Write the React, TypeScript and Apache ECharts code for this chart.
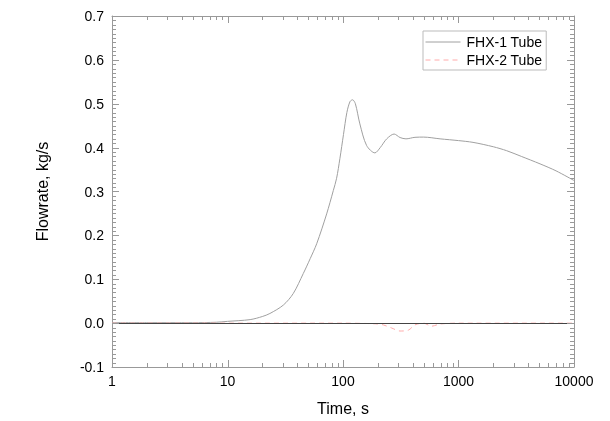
import React, { useEffect, useRef } from "react";
import * as echarts from "echarts";

const fhx1Time = [1, 2, 5, 8, 10, 15.7, 20, 23.3, 30.4, 37.1, 45.3, 52, 59.2, 72.2, 82.4, 88, 94, 101, 108, 115, 121, 128, 140, 160, 189, 210, 239, 277, 312, 351, 420, 500, 692, 1000, 1336, 2000, 2612, 3500, 5080, 7000, 10000];
const fhx1Flow = [0.001, 0.001, 0.001, 0.002, 0.004, 0.008, 0.015, 0.022, 0.041, 0.0675, 0.113, 0.147, 0.181, 0.249, 0.302, 0.33, 0.375, 0.43, 0.48, 0.505, 0.509, 0.5, 0.454, 0.405, 0.388, 0.4, 0.42, 0.431, 0.423, 0.42, 0.4235, 0.424, 0.42, 0.416, 0.412, 0.402, 0.393, 0.38, 0.363, 0.347, 0.325];

const fhx2Time = [1, 10, 100, 170, 200, 223, 263, 312, 368, 420, 496, 586, 692, 1000, 10000];
const fhx2Flow = [0, 0, 0, -0.001, -0.002, -0.004, -0.011, -0.018, -0.016, -0.004, 0.0, -0.007, -0.002, 0, 0];

const seriesNames = ["FHX-1 Tube", "FHX-2 Tube"];

const X_MIN = 1;
const X_MAX = 10000;
const Y_MIN = -0.1;
const Y_MAX = 0.7;

// tick positions of the log x axis: decades (major) and 2..9 (minor)
const xTicks: [number, number][] = [];
for (let d = 0; d <= 4; d++) {
  xTicks.push([Math.pow(10, d), 7]);
  if (d < 4) for (let k = 2; k <= 9; k++) xTicks.push([k * Math.pow(10, d), 4]);
}
// tick positions of the y axis: every 0.1 (major) and 0.01 (minor)
const yTicks: [number, number][] = [];
for (let i = -10; i <= 70; i++) yTicks.push([i / 100, i % 10 === 0 ? 7 : 4]);

const FONT = 'Arial, "Liberation Sans", sans-serif';
const AXIS_COLOR = "#999";

export default function App() {
  const ref = useRef<HTMLDivElement>(null);
  useEffect(() => {
    if (!ref.current) return;
    const chart = echarts.init(ref.current, undefined, { renderer: "svg" });
    const xCommon = {
      type: "log" as const,
      logBase: 10,
      min: X_MIN,
      max: X_MAX,
      splitLine: { show: false },
      axisLine: { show: true, onZero: false, lineStyle: { color: AXIS_COLOR, width: 1 } },
      axisTick: { show: false },
    };
    const yCommon = {
      type: "value" as const,
      min: Y_MIN,
      max: Y_MAX,
      interval: 0.1,
      splitLine: { show: false },
      axisLine: { show: true, onZero: false, lineStyle: { color: AXIS_COLOR, width: 1 } },
      axisTick: { show: false },
    };
    chart.setOption({
      animation: false,
      textStyle: { fontFamily: FONT },
      grid: { left: 112, right: 36, top: 16, bottom: 54 },
      legend: {
        data: seriesNames,
        orient: "vertical",
        left: 423,
        top: 31,
        padding: [4, 4, 3, 2],
        itemGap: 4,
        itemWidth: 35,
        itemHeight: 14,
        borderColor: "#bbb",
        borderWidth: 1,
        borderRadius: 0,
        itemStyle: { opacity: 0 },
        lineStyle: { width: 1 },
        textStyle: { fontFamily: FONT, fontSize: 14, color: "#000", padding: [0, 0, 0, 1] },
      },
      xAxis: [
        {
          ...xCommon,
          position: "bottom",
          name: "Time, s",
          nameLocation: "middle",
          nameGap: 33,
          nameTextStyle: { fontFamily: FONT, fontSize: 16, color: "#000" },
          axisLabel: {
            margin: 7,
            fontFamily: FONT,
            fontSize: 14,
            color: "#000",
            formatter: (v: number) => String(Math.round(v)),
          },
        },
        { ...xCommon, position: "top", axisLabel: { show: false } },
      ],
      yAxis: [
        {
          ...yCommon,
          position: "left",
          name: "Flowrate, kg/s",
          nameLocation: "middle",
          nameRotate: 90,
          nameGap: 62,
          nameTextStyle: { fontFamily: FONT, fontSize: 16, color: "#000" },
          axisLabel: {
            margin: 8,
            fontFamily: FONT,
            fontSize: 14,
            color: "#000",
            formatter: (v: number) => v.toFixed(1),
          },
        },
        { ...yCommon, position: "right", axisLabel: { show: false } },
      ],
      series: [
        {
          name: seriesNames[0],
          type: "line",
          xAxisIndex: 0,
          yAxisIndex: 0,
          data: fhx1Time.map((t, i) => [t, fhx1Flow[i]]),
          symbol: "none",
          smooth: 0.3,
          lineStyle: { color: "#a0a0a0", width: 1 },
          itemStyle: { color: "#a0a0a0" },
          z: 2,
          markLine: {
            silent: true,
            symbol: "none",
            label: { show: false },
            lineStyle: { color: "#444", width: 1, type: "solid" },
            data: [{ yAxis: 0 }],
          },
        },
        {
          name: seriesNames[1],
          type: "line",
          xAxisIndex: 0,
          yAxisIndex: 0,
          data: fhx2Time.map((t, i) => [t, fhx2Flow[i]]),
          symbol: "none",
          smooth: 0.3,
          lineStyle: { color: "#ffaaaa", width: 1, type: [5, 4] },
          itemStyle: { color: "#ffaaaa" },
          z: 3,
        },
      ],
    });

    // axis ticks placed through the chart's own scales
    const px = (t: number) => chart.convertToPixel({ xAxisIndex: 0 }, t) as number;
    const py = (v: number) => chart.convertToPixel({ yAxisIndex: 0 }, v) as number;
    const left = px(X_MIN);
    const right = px(X_MAX);
    const top = py(Y_MAX);
    const bottom = py(Y_MIN);
    const elements: any[] = [];
    const mk = (x1: number, y1: number, x2: number, y2: number) => ({
      type: "line",
      silent: true,
      z: 10,
      shape: { x1, y1, x2, y2 },
      style: { stroke: AXIS_COLOR, lineWidth: 1 },
    });
    xTicks.forEach(([t, len]) => {
      const x = Math.round(px(t)) + 0.5;
      elements.push(mk(x, bottom, x, bottom - len));
      elements.push(mk(x, top, x, top + len));
    });
    yTicks.forEach(([v, len]) => {
      const y = Math.round(py(v)) + 0.5;
      elements.push(mk(left, y, left + len, y));
      elements.push(mk(right, y, right - len, y));
    });
    chart.setOption({ graphic: elements });
    return () => chart.dispose();
  }, []);
  return (
    <div
      ref={ref}
      style={{ position: "fixed", left: 0, top: 0, width: 610, height: 421 }}
    />
  );
}
